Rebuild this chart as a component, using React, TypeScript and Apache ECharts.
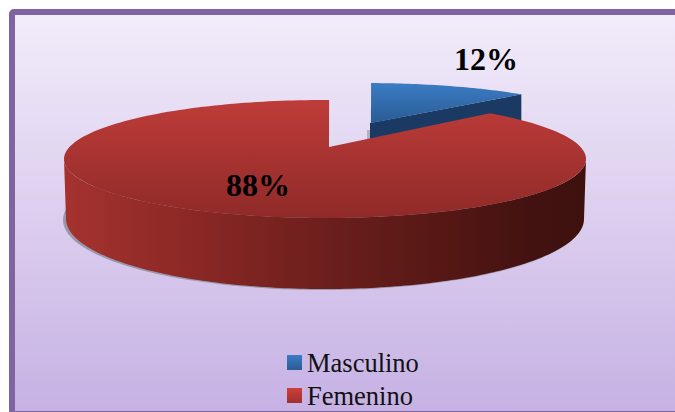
import React, { useEffect, useRef } from "react";
import * as echarts from "echarts";

const categories = ["Masculino", "Femenino"];
const masculinoValues = [12];
const femeninoValues = [88];

const DEG = Math.PI / 180;
const top = { cx: 325, cy: 159, rx: 261, ry: 59 };
const bottom = { cx: 325, cy: 219, rx: 259, ry: 70 };
const apex = [329, 147];
const blueApex = [370, 123];

const ellipseAt = (e: any, phi: number) => [e.cx + e.rx * Math.sin(phi * DEG), e.cy - e.ry * Math.cos(phi * DEG)];
// the drawn ellipse is in perspective: angle on the pie -> angle on the ellipse
const phiOf = (t: number) => t + 0.9 - 4.9 * Math.sin(2 * t * DEG);
const arc = (e: any, from: number, to: number, n = 160) => {
  const pts: number[][] = [];
  for (let i = 0; i <= n; i++) pts.push(ellipseAt(e, from + ((to - from) * i) / n));
  return pts;
};
const vGrad = (a: string, b: string) => new echarts.graphic.LinearGradient(0, 0, 0, 1, [
  { offset: 0, color: a },
  { offset: 1, color: b },
]);

const renderBlue = (_: any, api: any) => {
  const share = (api.value(0) / (masculinoValues[0] + femeninoValues[0])) * 360;
  const scalePt = (t: number) => {
    const p = ellipseAt(top, phiOf(t));
    return [blueApex[0] + 0.94 * (p[0] - apex[0]), blueApex[1] + 0.85 * (p[1] - apex[1])];
  };
  const rimPts: number[][] = [];
  for (let i = 0; i <= 40; i++) rimPts.push(scalePt((share * i) / 40));
  const end = rimPts[rimPts.length - 1];
  const h = 45;
  const start = rimPts[0];
  return {
    type: "group",
    children: [
      { type: "polygon", shape: { points: [[367, 130], [371, 130], [371, 139], [367, 139]] }, style: { fill: "#b3afc0" } },
      { type: "polygon", shape: { points: [start, blueApex, [blueApex[0], blueApex[1] + h], [start[0], start[1] + h]] }, style: { fill: "#1d4470" } },
      { type: "polygon", shape: { points: [blueApex, end, [end[0], end[1] + h], [blueApex[0], blueApex[1] + h]] }, style: { fill: "#1b3a63" } },
      { type: "polygon", shape: { points: [[blueApex[0] + 1, blueApex[1]], ...rimPts.map((p, i) => (i === 0 ? [p[0] + 1, p[1]] : p))] }, style: { fill: vGrad("#3b7cc6", "#2a5b93") } },
      {
        type: "text",
        style: { x: 486, y: 59, text: `${api.value(0)}%`, fill: "#000", font: 'bold 32px "Liberation Serif"', align: "center", verticalAlign: "middle" },
      },
    ],
  };
};

const renderRed = (_: any, api: any) => {
  const share = (masculinoValues[0] / (masculinoValues[0] + api.value(0))) * 360;
  const face: number[][] = [apex];
  for (let i = 0; i <= 200; i++) {
    const t = share + ((360 - share) * i) / 200;
    face.push(ellipseAt(top, phiOf(t)));
  }
  const wall = [...arc(top, 90, 270), ...arc(bottom, 270, 90)];
  const shadow = arc({ cx: 323, cy: 220, rx: 260, ry: 70 }, 180, 360 + 180);
  return {
    type: "group",
    children: [
      { type: "polygon", shape: { points: shadow }, style: { fill: "#9a98ac" } },
      {
        type: "polygon",
        shape: { points: wall },
        style: {
          fill: new echarts.graphic.LinearGradient(0, 0, 1, 0, [
            { offset: 0, color: "#a5322f" },
            { offset: 0.25, color: "#8a2825" },
            { offset: 0.5, color: "#6c1f1c" },
            { offset: 0.75, color: "#531714" },
            { offset: 0.9, color: "#421210" },
            { offset: 1, color: "#3d100e" },
          ]),
        },
      },
      { type: "polygon", shape: { points: face }, style: { fill: vGrad("#be3c39", "#8f2a28") } },
      {
        type: "text",
        style: { x: 258, y: 185, text: `${api.value(0)}%`, fill: "#000", font: 'bold 32px "Liberation Serif"', align: "center", verticalAlign: "middle" },
      },
    ],
  };
};

export default function App() {
  const ref = useRef<HTMLDivElement>(null);
  useEffect(() => {
    document.body.style.margin = "0";
    const chart = echarts.init(ref.current!, undefined, { renderer: "svg" });
    chart.setOption({
      animation: false,
      backgroundColor: "#ffffff",
      graphic: [
        {
          type: "rect",
          z: -1,
          shape: { x: 12, y: 12, width: 700, height: 402, r: 2 },
          style: {
            stroke: "#8064a2",
            lineWidth: 6,
            fill: new echarts.graphic.LinearGradient(0, 0, 0, 1, [
              { offset: 0, color: "#f2ecfa" },
              { offset: 1, color: "#c6b1e4" },
            ]),
          },
        },
      ],
      legend: {
        orient: "vertical",
        left: 287,
        top: 348,
        itemWidth: 15,
        itemHeight: 15,
        itemGap: 4,
        padding: 0,
        icon: "rect",
        selectedMode: false,
        data: categories,
        textStyle: { fontFamily: "Liberation Serif", fontSize: 26.5, color: "#111", lineHeight: 29 },
      },
      series: [
        {
          type: "custom",
          name: categories[0],
          coordinateSystem: "none",
          z: 2,
          silent: true,
          itemStyle: { color: vGrad("#3b7cc6", "#2a5b93") },
          data: masculinoValues,
          renderItem: renderBlue,
        },
        {
          type: "custom",
          name: categories[1],
          coordinateSystem: "none",
          z: 3,
          silent: true,
          itemStyle: { color: vGrad("#cc3f3b", "#a03030") },
          data: femeninoValues,
          renderItem: renderRed,
        },
      ],
    });
    return () => chart.dispose();
  }, []);
  return <div ref={ref} style={{ width: 675, height: 412 }} />;
}
